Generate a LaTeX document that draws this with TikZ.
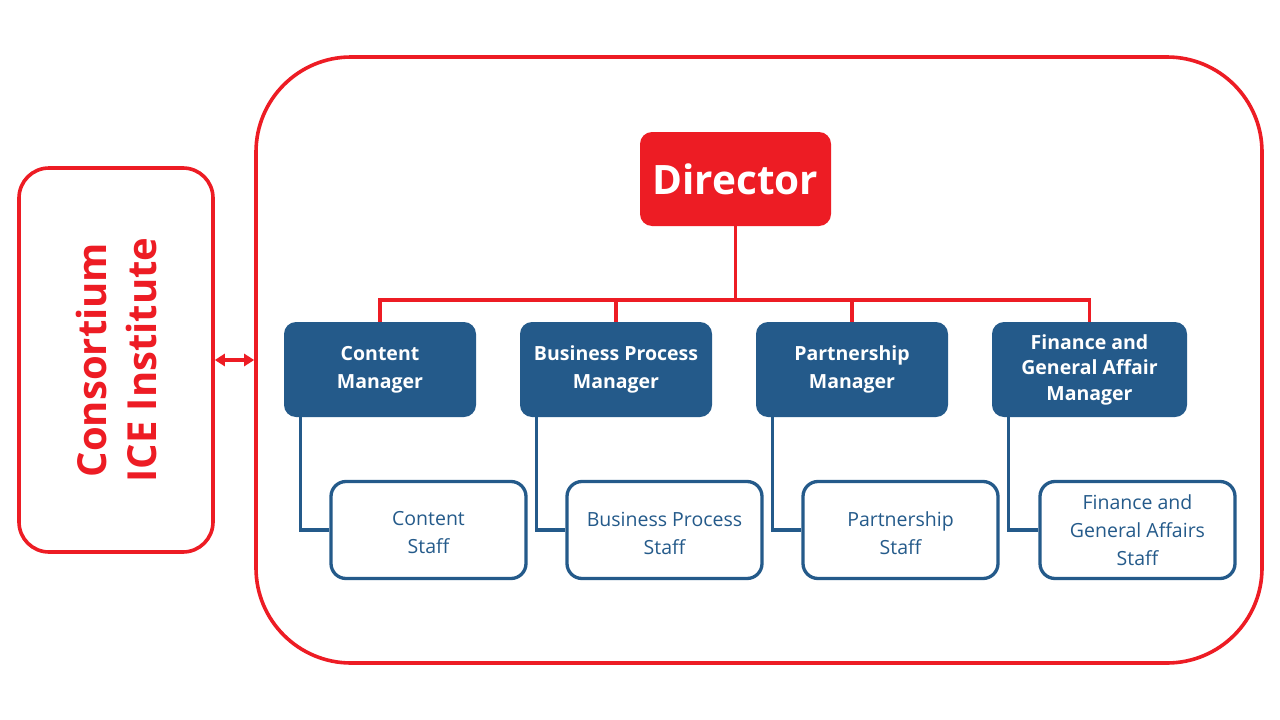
\documentclass[tikz,border=0pt]{standalone}
\usepackage{fontspec}
\setmainfont{Open Sans}
\usetikzlibrary{arrows.meta}
\definecolor{cred}{HTML}{ED1C24}
\definecolor{cblue}{HTML}{245A8A}
\begin{document}
\begin{tikzpicture}[x=1pt,y=-1pt,
  redbox/.style={draw=cred, line width=3.6pt, fill=white, inner sep=0pt},
  dirbox/.style={fill=cred, rounded corners=12pt, minimum width=191pt, minimum height=94pt, inner sep=0pt,
     text=white, font=\fontsize{40.5}{48}\selectfont\bfseries},
  mgrbox/.style={fill=cblue, rounded corners=12pt, minimum width=192pt, minimum height=95pt, inner sep=0pt,
     text=white, align=center, font=\fontsize{19.5}{28}\selectfont\bfseries},
  staffbox/.style={draw=cblue, line width=3.3pt, fill=white, rounded corners=15pt, minimum width=195pt, minimum height=97pt, inner sep=0pt},
  stafftext/.style={text=cblue, align=center, inner sep=0pt, font=\fontsize{19.5}{28}\selectfont},
  redline/.style={draw=cred, line width=3.3pt},
  blueline/.style={draw=cblue, line width=3.3pt},
]
\useasboundingbox (0,0) rectangle (1280,720);
\node[redbox, rounded corners=95pt, minimum width=1006pt, minimum height=606pt] (outer) at (759,360) {};
\node[redbox, rounded corners=30pt, minimum width=194pt, minimum height=384pt] (left) at (116,360) {};
\node[text=cred, align=center, rotate=90, font=\fontsize{40}{50}\selectfont\bfseries] (lefttext) at (left.center) {Consortium\\ICE Institute};
\draw[redline, {Triangle[length=10pt,width=12pt]}-{Triangle[length=10pt,width=12pt]}] (left.east) -- (outer.west);

\node[dirbox] (dir) at (735.5,179) {Director};

\node[mgrbox] (m1) at (380,369.5) {Content\\Manager};
\node[mgrbox] (m2) at (616,369.5) {Business Process\\Manager};
\node[mgrbox] (m3) at (852,369.5) {Partnership\\Manager};
\node[mgrbox, minimum width=195pt, font=\fontsize{19.5}{25.5}\selectfont\bfseries] (m4) at (1089.5,369.5) {Finance and\\General Affair\\Manager};

\node[staffbox] (s1) at (428.5,530) {};
\node[staffbox] (s2) at (664.5,530) {};
\node[staffbox] (s3) at (900.5,530) {};
\node[staffbox] (s4) at (1137.5,530) {};
\node[stafftext, yshift=-3pt] (t1) at (s1.center) {Content\\Staff};
\node[stafftext, yshift=-3pt] (t2) at (s2.center) {Business Process\\Staff};
\node[stafftext, yshift=-3pt] (t3) at (s3.center) {Partnership\\Staff};
\node[stafftext] (t4) at (s4.center) {Finance and\\General Affairs\\Staff};

\coordinate (bus) at (735.5,300);
\draw[redline] (dir.south) -- (bus);
\draw[redline] (m1.north) -- (m1.north |- bus) -- (m4.north |- bus) -- (m4.north);
\draw[redline] (m2.north) -- (m2.north |- bus);
\draw[redline] (m3.north) -- (m3.north |- bus);

\foreach \i in {1,2,3,4}{
  \draw[blueline] ([xshift=17pt]m\i.south west) |- (s\i.west);
}
\end{tikzpicture}
\end{document}
